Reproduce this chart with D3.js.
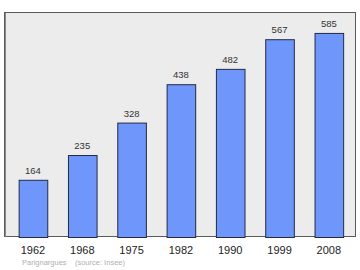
<!DOCTYPE html>
<html>
<head>
<meta charset="utf-8">
<script src="https://cdn.jsdelivr.net/npm/d3@7"></script>
<style>
  body { margin: 0; background: #fff; }
  text { font-family: "Liberation Sans", Arial, sans-serif; }
</style>
</head>
<body>
<div id="chart"></div>
<script>
let w = 360;
let h = 270;

// data
let years = ["1962", "1968", "1975", "1982", "1990", "1999", "2008"];
let population = [164, 235, 328, 438, 482, 567, 585];
let townName = "Parignargues";
let sourceText = "(source: Insee)";

let frame = {left: 4, top: 12, right: 356, bottom: 237};

let viz = d3.select("#chart")
  .append("svg")
  .attr("width", w)
  .attr("height", h);

// background panel
viz.append("rect")
  .attr("x", frame.left + 0.5)
  .attr("y", frame.top + 0.5)
  .attr("width", frame.right - frame.left - 1)
  .attr("height", frame.bottom - frame.top - 1)
  .attr("fill", "#ececec")
  .attr("stroke", "#5a5a5a")
  .attr("stroke-width", 1);

// slightly heavier left edge, like the original
viz.append("line")
  .attr("x1", frame.left + 1.5).attr("x2", frame.left + 1.5)
  .attr("y1", frame.top + 1).attr("y2", frame.bottom)
  .attr("stroke", "#8a8a8a");

let xScale = d3.scaleBand()
  .domain(years)
  .range([8.3, 353.5])
  .paddingInner(0.42)
  .paddingOuter(0.21);

let yScale = d3.scaleLinear()
  .domain([0, 645])
  .range([frame.bottom, frame.top]);

let data = years.map((y, i) => ({year: y, value: population[i]}));

viz.selectAll(".bar").data(data).enter()
  .append("rect")
  .attr("class", "bar")
  .attr("x", d => xScale(d.year) + 0.5)
  .attr("y", d => yScale(d.value) + 0.5)
  .attr("width", xScale.bandwidth())
  .attr("height", d => frame.bottom - yScale(d.value))
  .attr("fill", "#6f97fb")
  .attr("stroke", "#232a44")
  .attr("stroke-width", 1);

viz.selectAll(".val").data(data).enter()
  .append("text")
  .attr("class", "val")
  .attr("x", d => xScale(d.year) + xScale.bandwidth() / 2)
  .attr("y", d => yScale(d.value) - 6)
  .attr("text-anchor", "middle")
  .attr("font-size", 9.5)
  .attr("fill", "#333")
  .text(d => d.value);

// x axis labels
let xAxis = d3.axisBottom(xScale).tickSize(0).tickPadding(0);
let xAxisGroup = viz.append("g")
  .attr("transform", `translate(0, ${frame.bottom})`)
  .call(xAxis);
xAxisGroup.select(".domain").remove();
xAxisGroup.selectAll("text")
  .attr("y", 16.5)
  .attr("dy", 0)
  .attr("font-size", 11)
  .attr("font-family", "Liberation Sans, Arial, sans-serif")
  .attr("fill", "#222");

viz.append("text")
  .attr("x", 22)
  .attr("y", 265)
  .attr("font-size", 7.5)
  .attr("fill", "#b0b0b0")
  .attr("xml:space", "preserve")
  .text(townName + "    " + sourceText);
</script>
</body>
</html>
